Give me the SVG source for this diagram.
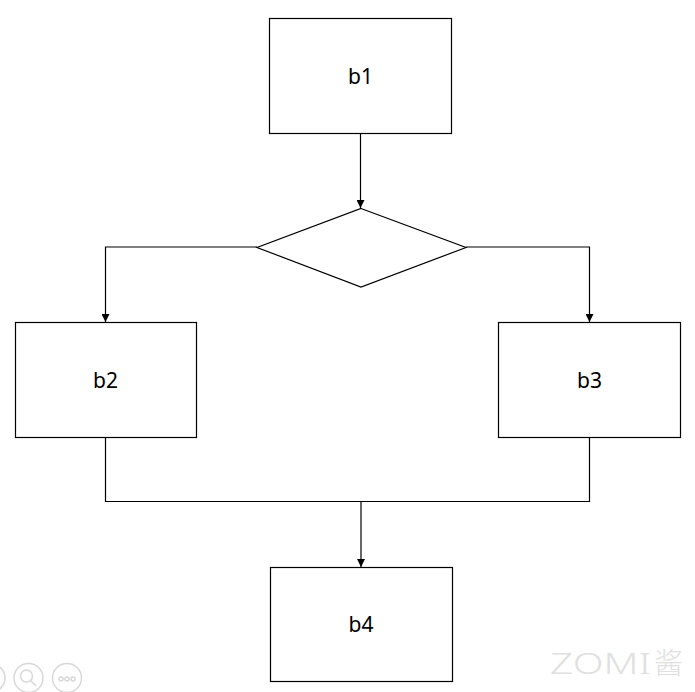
<svg xmlns="http://www.w3.org/2000/svg" width="695" height="692" viewBox="0 0 695 692">
<defs>
<marker id="arr" viewBox="0 0 10 10" refX="10" refY="5" markerWidth="8" markerHeight="8" markerUnits="userSpaceOnUse" orient="auto">
<path d="M0,0 L10,5 L0,10 z" fill="#000"/>
</marker>
</defs>
<style>
.box{fill:#fff;stroke:#000;stroke-width:1.2}
.lbl{font-family:"Noto Sans","Liberation Sans",sans-serif;font-size:21px;fill:#000;text-anchor:middle;dominant-baseline:central}
.conn{fill:none;stroke:#000;stroke-width:1.2}
.ui{fill:none;stroke:#d8d8d8;stroke-width:1.5}
.wm{font-size:29px;font-weight:300;fill:#e0e0e0}
</style>
<rect width="695" height="692" fill="#fff"/>
<g id="connectors">
<path class="conn" d="M360.5,133 V208" marker-end="url(#arr)"/>
<path class="conn" d="M257,247 H105.5 V322" marker-end="url(#arr)"/>
<path class="conn" d="M466,247 H589.5 V322" marker-end="url(#arr)"/>
<path class="conn" d="M105.5,437 V501.5 H589.5 V437"/>
<path class="conn" d="M361,501.5 V567" marker-end="url(#arr)"/>
</g>
<g id="b1"><rect class="box" x="269.5" y="18.5" width="182" height="115"/><text class="lbl" x="360.5" y="76">b1</text></g>
<g id="cond"><polygon class="box" points="361,208.5 466,247.5 361,287 257,247.5"/></g>
<g id="b2"><rect class="box" x="15.5" y="322.5" width="181" height="115"/><text class="lbl" x="105.5" y="380">b2</text></g>
<g id="b3"><rect class="box" x="498.5" y="322.5" width="182" height="115"/><text class="lbl" x="589.5" y="380">b3</text></g>
<g id="b4"><rect class="box" x="270.5" y="567.5" width="182" height="114"/><text class="lbl" x="361" y="624">b4</text></g>
<g id="ui-icons">
<circle class="ui" cx="-9" cy="678" r="14"/>
<circle class="ui" cx="28.5" cy="678" r="14.5"/>
<circle class="ui" cx="26.5" cy="676" r="6"/>
<path class="ui" d="M30.5,680.5 L36,686"/>
<circle class="ui" cx="67" cy="678" r="14.5"/>
<circle class="ui" cx="61" cy="679" r="2" stroke-width="1"/>
<circle class="ui" cx="67" cy="679" r="2" stroke-width="1"/>
<circle class="ui" cx="73" cy="679" r="2" stroke-width="1"/>
</g>
<g id="watermark">
<text class="wm" x="550" y="674" font-family="'Noto Sans',sans-serif" textLength="101" lengthAdjust="spacingAndGlyphs">ZOMI</text>
<text class="wm" x="654" y="674" font-family="'Noto Sans CJK SC',sans-serif" font-size="27">酱</text>
</g>
</svg>
